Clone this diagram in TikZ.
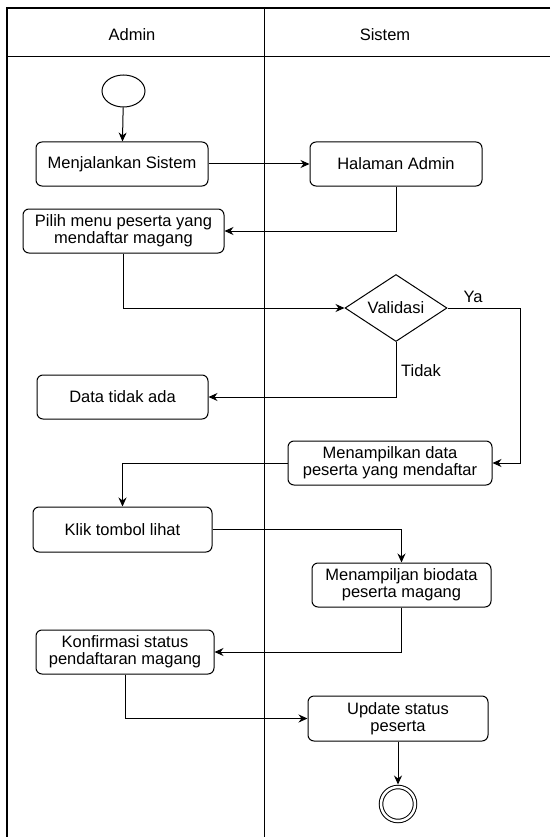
\documentclass[tikz,border=0pt]{standalone}
\usepackage{fontspec}
\setmainfont{Liberation Sans}
\usetikzlibrary{shapes.geometric,arrows.meta}

\begin{document}
\begin{tikzpicture}[x=1pt, y=-1pt, font=\fontsize{16.5}{17}\selectfont, >={Stealth[length=9pt,width=8pt]}]
    \tikzset{ aksi/.style={draw, rounded corners=6pt, line width=1pt, align=center, inner sep=0pt},
              alur/.style={->, line width=1pt} }
    \useasboundingbox (0,0) rectangle (550,837);

    \draw[line width=1.5pt] (550,8) -- (7,8) -- (7,837);
    \draw[line width=1pt] (7,57) -- (550,57);
    \draw[line width=1pt] (264,8) -- (264,837);
    \node (admin) at (132,35) {Admin};
    \node (sistem) at (385,35) {Sistem};

    \node[draw, ellipse, line width=1pt, minimum width=43pt, minimum height=32pt] (mulai) at (123.5,91) {};
    \node[aksi, minimum width=172pt, minimum height=44pt] (jalan) at (122,164) {Menjalankan Sistem};
    \node[aksi, minimum width=172pt, minimum height=44pt] (halaman) at (396,164) {Halaman Admin};
    \node[aksi, minimum width=201pt, minimum height=44pt] (pilih) at (123.5,231) {Pilih menu peserta yang\\mendaftar magang};
    \node[draw, diamond, aspect=1.5, line width=1pt, inner sep=0pt, minimum width=102pt, minimum height=67pt] (validasi) at (396,308) {Validasi};
    \coordinate (belok) at (520,308);
    \node[aksi, minimum width=171pt, minimum height=44pt] (kosong) at (122.5,397) {Data tidak ada};
    \node[aksi, minimum width=204pt, minimum height=44pt] (tampil) at (390,463) {Menampilkan data\\peserta yang mendaftar};
    \node[aksi, minimum width=179pt, minimum height=45pt] (klik) at (122.5,529.5) {Klik tombol lihat};
    \node[aksi, minimum width=179pt, minimum height=44pt] (biodata) at (401.5,585) {Menampiljan biodata\\peserta magang};
    \node[aksi, minimum width=178pt, minimum height=44pt] (konfirmasi) at (125,652) {Konfirmasi status\\pendaftaran magang};
    \node[aksi, minimum width=180pt, minimum height=45pt] (update) at (398,718.5) {Update status\\peserta};
    \node[draw, circle, double, double distance=2.5pt, line width=1pt, minimum size=34pt, inner sep=0pt] (akhir) at (398,804) {};

    \draw[alur] (mulai) -- (jalan);
    \draw[alur] (jalan) -- (halaman);
    \draw[alur] (halaman.south) |- (pilih.east);
    \draw[alur] (pilih.south) |- (validasi.west);
    \draw[alur] (validasi.east) -- (belok) |- (tampil.east);
    \draw[alur] (validasi.south) |- (kosong.east);
    \node (ya) at (473,297) {Ya};
    \node (tidak) at (421,371) {Tidak};
    \draw[alur] (tampil.west) -| (klik.north);
    \draw[alur] (klik.east) -| (biodata.north);
    \draw[alur] (biodata.south) |- (konfirmasi.east);
    \draw[alur] (konfirmasi.south) |- (update.west);
    \draw[alur, shorten >=2pt] (update) -- (akhir);
\end{tikzpicture}
\end{document}
